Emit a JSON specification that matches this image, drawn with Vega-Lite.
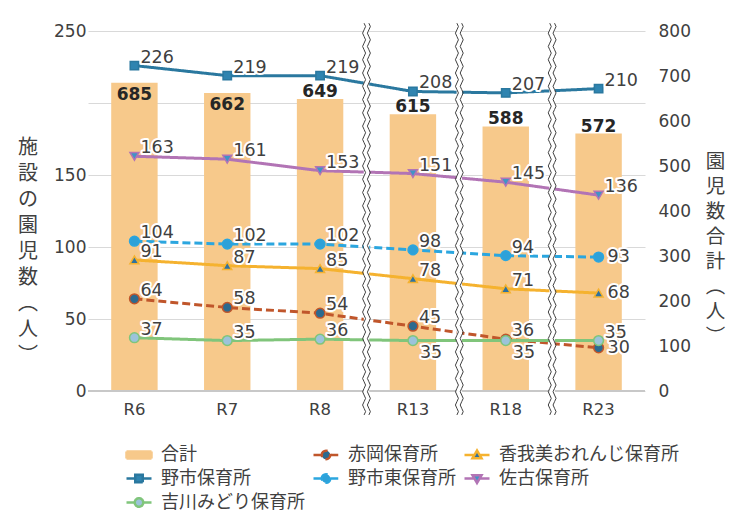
{
  "$schema": "https://vega.github.io/schema/vega-lite/v6.json",
  "width": 557,
  "height": 360,
  "autosize": "none",
  "padding": {"left": 88, "top": 31, "right": 84, "bottom": 124},
  "background": "white",
  "config": {"view": {"stroke": null}},
  "data": {
    "values": [
      {"series": "合計", "year": "R6", "value": 685},
      {"series": "合計", "year": "R7", "value": 662},
      {"series": "合計", "year": "R8", "value": 649},
      {"series": "合計", "year": "R13", "value": 615},
      {"series": "合計", "year": "R18", "value": 588},
      {"series": "合計", "year": "R23", "value": 572},
      {"series": "赤岡保育所", "year": "R6", "value": 64},
      {"series": "赤岡保育所", "year": "R7", "value": 58},
      {"series": "赤岡保育所", "year": "R8", "value": 54},
      {"series": "赤岡保育所", "year": "R13", "value": 45},
      {"series": "赤岡保育所", "year": "R18", "value": 36},
      {"series": "赤岡保育所", "year": "R23", "value": 30},
      {"series": "香我美おれんじ保育所", "year": "R6", "value": 91},
      {"series": "香我美おれんじ保育所", "year": "R7", "value": 87},
      {"series": "香我美おれんじ保育所", "year": "R8", "value": 85},
      {"series": "香我美おれんじ保育所", "year": "R13", "value": 78},
      {"series": "香我美おれんじ保育所", "year": "R18", "value": 71},
      {"series": "香我美おれんじ保育所", "year": "R23", "value": 68},
      {"series": "野市保育所", "year": "R6", "value": 226},
      {"series": "野市保育所", "year": "R7", "value": 219},
      {"series": "野市保育所", "year": "R8", "value": 219},
      {"series": "野市保育所", "year": "R13", "value": 208},
      {"series": "野市保育所", "year": "R18", "value": 207},
      {"series": "野市保育所", "year": "R23", "value": 210},
      {"series": "野市東保育所", "year": "R6", "value": 104},
      {"series": "野市東保育所", "year": "R7", "value": 102},
      {"series": "野市東保育所", "year": "R8", "value": 102},
      {"series": "野市東保育所", "year": "R13", "value": 98},
      {"series": "野市東保育所", "year": "R18", "value": 94},
      {"series": "野市東保育所", "year": "R23", "value": 93},
      {"series": "佐古保育所", "year": "R6", "value": 163},
      {"series": "佐古保育所", "year": "R7", "value": 161},
      {"series": "佐古保育所", "year": "R8", "value": 153},
      {"series": "佐古保育所", "year": "R13", "value": 151},
      {"series": "佐古保育所", "year": "R18", "value": 145},
      {"series": "佐古保育所", "year": "R23", "value": 136},
      {"series": "吉川みどり保育所", "year": "R6", "value": 37},
      {"series": "吉川みどり保育所", "year": "R7", "value": 35},
      {"series": "吉川みどり保育所", "year": "R8", "value": 36},
      {"series": "吉川みどり保育所", "year": "R13", "value": 35},
      {"series": "吉川みどり保育所", "year": "R18", "value": 35},
      {"series": "吉川みどり保育所", "year": "R23", "value": 35}
    ]
  },
  "resolve": {"scale": {"y": "independent"}},
  "layer": [
    {
      "layer": [
        {
          "transform": [{"filter": "datum.series == '合計'"}],
          "mark": {"type": "bar"},
          "encoding": {
            "x": {"field": "year", "type": "nominal", "scale": {"type": "band", "domain": ["R6", "R7", "R8", "R13", "R18", "R23"], "paddingInner": 0.5, "paddingOuter": 0.25},
              "axis": {"title": null, "domain": false, "ticks": false, "grid": false, "labelAngle": 0, "labelFont": "DejaVu Sans", "labelFontSize": 16.5, "labelColor": "#404040", "labelPadding": 10}},
            "y": {"field": "value", "type": "quantitative", "scale": {"domain": [0, 800], "nice": false},
              "axis": {"orient": "right", "title": ["園", "児", "数", "合", "計", "︵", "人", "︶"], "values": [0, 100, 200, 300, 400, 500, 600, 700, 800], "domain": false, "ticks": false, "grid": false, "labelFont": "DejaVu Sans", "labelFontSize": 17, "labelColor": "#404040", "labelPadding": 13, "titleAngle": 0, "titleAlign": "center", "titleBaseline": "middle", "titleFont": "Noto Sans CJK JP", "titleFontSize": 19.5, "titleFontWeight": "normal", "titleColor": "#404040", "titleLineHeight": 25, "titleX": 70, "titleY": 130}},
            "fill": {"field": "series", "type": "nominal",
              "scale": {"domain": ["合計", "赤岡保育所", "香我美おれんじ保育所", "野市保育所", "野市東保育所", "佐古保育所", "吉川みどり保育所"], "range": ["#f7c98b", "#2c6a8f", "#2f72a0", "#2f84b0", "#2ea1d8", "#4193c6", "#9cc3da"]}}
          }
        },
        {
          "data": {"values": [{"v": 0}]},
          "mark": {"type": "rule", "stroke": "#c8c8c8", "strokeWidth": 2},
          "encoding": {"y": {"datum": 0, "type": "quantitative"}}
        },
        {
          "transform": [{"filter": "datum.series == '合計' && (datum.year == 'R6' || datum.year == 'R7')"}],
          "mark": {"type": "text", "font": "DejaVu Sans", "fontWeight": "bold", "fontSize": 17, "baseline": "alphabetic", "align": "center", "dy": 17, "fill": "#262626"},
          "encoding": {
            "x": {"field": "year", "type": "nominal"},
            "y": {"field": "value", "type": "quantitative"},
            "text": {"field": "value", "type": "quantitative"}
          }
        },
        {
          "transform": [{"filter": "datum.series == '合計' && datum.year != 'R6' && datum.year != 'R7'"}],
          "mark": {"type": "text", "font": "DejaVu Sans", "fontWeight": "bold", "fontSize": 17, "baseline": "alphabetic", "align": "center", "dy": -2, "fill": "#262626"},
          "encoding": {
            "x": {"field": "year", "type": "nominal"},
            "y": {"field": "value", "type": "quantitative"},
            "text": {"field": "value", "type": "quantitative"}
          }
        }
      ]
    },
    {
      "layer": [
        {
          "transform": [{"filter": "datum.series != '合計'"}],
          "mark": {"type": "line", "strokeWidth": 3},
          "encoding": {
            "x": {"field": "year", "type": "nominal"},
            "y": {"field": "value", "type": "quantitative", "scale": {"domain": [0, 250], "nice": false},
              "axis": {"orient": "left", "title": ["施", "設", "の", "園", "児", "数", "︵", "人", "︶"], "values": [0, 50, 100, 150, 200, 250], "labelExpr": "datum.value == 200 ? '' : datum.label", "domain": false, "ticks": false, "grid": true, "gridColor": "#d9d9d9", "gridWidth": 1, "labelFont": "DejaVu Sans", "labelFontSize": 17, "labelColor": "#404040", "labelPadding": 2, "titleAngle": 0, "titleAlign": "center", "titleBaseline": "middle", "titleFont": "Noto Sans CJK JP", "titleFontSize": 20, "titleFontWeight": "normal", "titleColor": "#404040", "titleLineHeight": 26, "titleX": -60.5, "titleY": 116}},
            "stroke": {"field": "series", "type": "nominal",
              "scale": {"domain": ["合計", "赤岡保育所", "香我美おれんじ保育所", "野市保育所", "野市東保育所", "佐古保育所", "吉川みどり保育所"], "range": ["#f7c98b", "#c0562b", "#f5b22f", "#2a789f", "#2ba6df", "#b274b5", "#80c57b"]}},
            "strokeDash": {"field": "series", "type": "nominal",
              "scale": {"domain": ["合計", "赤岡保育所", "香我美おれんじ保育所", "野市保育所", "野市東保育所", "佐古保育所", "吉川みどり保育所"], "range": [[1, 0], [8, 4], [1, 0], [1, 0], [8, 4], [1, 0], [1, 0]]}}
          }
        },
        {
          "transform": [{"filter": "datum.series == '野市保育所'"}],
          "mark": {"type": "point", "shape": "square", "size": 70, "filled": true, "opacity": 1, "strokeWidth": 1.5},
          "encoding": {
            "x": {"field": "year", "type": "nominal"},
            "y": {"field": "value", "type": "quantitative"},
            "fill": {"field": "series", "type": "nominal"},
            "stroke": {"field": "series", "type": "nominal"}
          }
        },
        {
          "transform": [{"filter": "datum.series == '赤岡保育所' || datum.series == '野市東保育所' || datum.series == '吉川みどり保育所'"}],
          "mark": {"type": "point", "shape": "circle", "size": 95, "filled": true, "opacity": 1, "strokeWidth": 1.5},
          "encoding": {
            "x": {"field": "year", "type": "nominal"},
            "y": {"field": "value", "type": "quantitative"},
            "fill": {"field": "series", "type": "nominal"},
            "stroke": {"field": "series", "type": "nominal"}
          }
        },
        {
          "transform": [{"filter": "datum.series == '香我美おれんじ保育所'"}],
          "mark": {"type": "point", "shape": "triangle-up", "size": 80, "filled": true, "opacity": 1, "strokeWidth": 1.5},
          "encoding": {
            "x": {"field": "year", "type": "nominal"},
            "y": {"field": "value", "type": "quantitative"},
            "fill": {"field": "series", "type": "nominal"},
            "stroke": {"field": "series", "type": "nominal"}
          }
        },
        {
          "transform": [{"filter": "datum.series == '佐古保育所'"}],
          "mark": {"type": "point", "shape": "triangle-down", "size": 80, "filled": true, "opacity": 1, "strokeWidth": 1.5},
          "encoding": {
            "x": {"field": "year", "type": "nominal"},
            "y": {"field": "value", "type": "quantitative"},
            "fill": {"field": "series", "type": "nominal"},
            "stroke": {"field": "series", "type": "nominal"}
          }
        },
        {
          "transform": [{"filter": "datum.series != '合計' && !(datum.series == '吉川みどり保育所' && (datum.year == 'R13' || datum.year == 'R18')) && !(datum.year == 'R23' && (datum.series == '野市東保育所' || datum.series == '香我美おれんじ保育所' || datum.series == '赤岡保育所'))"}],
          "encoding": {
            "x": {"field": "year", "type": "nominal"},
            "y": {"field": "value", "type": "quantitative"},
            "text": {"field": "value", "type": "quantitative"}
          },
          "layer": [
            {"mark": {"type": "text", "font": "DejaVu Sans", "fontSize": 17.5, "align": "left", "baseline": "alphabetic", "dx": 6, "dy": -3, "fill": "white", "stroke": "white", "strokeWidth": 4, "strokeJoin": "round"}},
            {"mark": {"type": "text", "font": "DejaVu Sans", "fontSize": 17.5, "align": "left", "baseline": "alphabetic", "dx": 6, "dy": -3, "fill": "#404040"}}
          ]
        },
        {
          "transform": [{"filter": "datum.series == '吉川みどり保育所' && (datum.year == 'R13' || datum.year == 'R18')"}],
          "encoding": {
            "x": {"field": "year", "type": "nominal"},
            "y": {"field": "value", "type": "quantitative"},
            "text": {"field": "value", "type": "quantitative"}
          },
          "layer": [
            {"mark": {"type": "text", "font": "DejaVu Sans", "fontSize": 17.5, "align": "left", "baseline": "alphabetic", "dx": 7, "dy": 17, "fill": "white", "stroke": "white", "strokeWidth": 4, "strokeJoin": "round"}},
            {"mark": {"type": "text", "font": "DejaVu Sans", "fontSize": 17.5, "align": "left", "baseline": "alphabetic", "dx": 7, "dy": 17, "fill": "#404040"}}
          ]
        },
        {
          "transform": [{"filter": "datum.year == 'R23' && (datum.series == '野市東保育所' || datum.series == '香我美おれんじ保育所' || datum.series == '赤岡保育所')"}],
          "encoding": {
            "x": {"field": "year", "type": "nominal"},
            "y": {"field": "value", "type": "quantitative"},
            "text": {"field": "value", "type": "quantitative"}
          },
          "layer": [
            {"mark": {"type": "text", "font": "DejaVu Sans", "fontSize": 17.5, "align": "left", "baseline": "alphabetic", "dx": 9, "dy": 5, "fill": "white", "stroke": "white", "strokeWidth": 4, "strokeJoin": "round"}},
            {"mark": {"type": "text", "font": "DejaVu Sans", "fontSize": 17.5, "align": "left", "baseline": "alphabetic", "dx": 9, "dy": 5, "fill": "#404040"}}
          ]
        },
        {
          "data": {"values": [{"year": "R8"}, {"year": "R13"}, {"year": "R18"}]},
          "mark": {"type": "point", "shape": "M-0.0135,-0.975H0.0135V0.985H-0.0135Z", "size": 160000, "filled": true, "fill": "white", "strokeWidth": 0, "opacity": 1, "xOffset": 46.4},
          "encoding": {
            "x": {"field": "year", "type": "nominal"},
            "y": {"datum": 120, "type": "quantitative"}
          }
        },
        {
          "data": {"values": [{"year": "R8"}, {"year": "R13"}, {"year": "R18"}]},
          "mark": {"type": "point", "shape": "M-0.012,-0.975 q0.015,0.0166 0,0.0332 q-0.015,0.0166 0,0.0332 q0.015,0.0166 0,0.0332 q-0.015,0.0166 0,0.0332 q0.015,0.0166 0,0.0332 q-0.015,0.0166 0,0.0332 q0.015,0.0166 0,0.0332 q-0.015,0.0166 0,0.0332 q0.015,0.0166 0,0.0332 q-0.015,0.0166 0,0.0332 q0.015,0.0166 0,0.0332 q-0.015,0.0166 0,0.0332 q0.015,0.0166 0,0.0332 q-0.015,0.0166 0,0.0332 q0.015,0.0166 0,0.0332 q-0.015,0.0166 0,0.0332 q0.015,0.0166 0,0.0332 q-0.015,0.0166 0,0.0332 q0.015,0.0166 0,0.0332 q-0.015,0.0166 0,0.0332 q0.015,0.0166 0,0.0332 q-0.015,0.0166 0,0.0332 q0.015,0.0166 0,0.0332 q-0.015,0.0166 0,0.0332 q0.015,0.0166 0,0.0332 q-0.015,0.0166 0,0.0332 q0.015,0.0166 0,0.0332 q-0.015,0.0166 0,0.0332 q0.015,0.0166 0,0.0332 q-0.015,0.0166 0,0.0332 q0.015,0.0166 0,0.0332 q-0.015,0.0166 0,0.0332 q0.015,0.0166 0,0.0332 q-0.015,0.0166 0,0.0332 q0.015,0.0166 0,0.0332 q-0.015,0.0166 0,0.0332 q0.015,0.0166 0,0.0332 q-0.015,0.0166 0,0.0332 q0.015,0.0166 0,0.0332 q-0.015,0.0166 0,0.0332 q0.015,0.0166 0,0.0332 q-0.015,0.0166 0,0.0332 q0.015,0.0166 0,0.0332 q-0.015,0.0166 0,0.0332 q0.015,0.0166 0,0.0332 q-0.015,0.0166 0,0.0332 q0.015,0.0166 0,0.0332 q-0.015,0.0166 0,0.0332 q0.015,0.0166 0,0.0332 q-0.015,0.0166 0,0.0332 q0.015,0.0166 0,0.0332 q-0.015,0.0166 0,0.0332 q0.015,0.0166 0,0.0332 q-0.015,0.0166 0,0.0332 q0.015,0.0166 0,0.0332 q-0.015,0.0166 0,0.0332 q0.015,0.0166 0,0.0332 q-0.015,0.0166 0,0.0332 q0.015,0.0166 0,0.0332 M0.012,-0.975 q0.015,0.0166 0,0.0332 q-0.015,0.0166 0,0.0332 q0.015,0.0166 0,0.0332 q-0.015,0.0166 0,0.0332 q0.015,0.0166 0,0.0332 q-0.015,0.0166 0,0.0332 q0.015,0.0166 0,0.0332 q-0.015,0.0166 0,0.0332 q0.015,0.0166 0,0.0332 q-0.015,0.0166 0,0.0332 q0.015,0.0166 0,0.0332 q-0.015,0.0166 0,0.0332 q0.015,0.0166 0,0.0332 q-0.015,0.0166 0,0.0332 q0.015,0.0166 0,0.0332 q-0.015,0.0166 0,0.0332 q0.015,0.0166 0,0.0332 q-0.015,0.0166 0,0.0332 q0.015,0.0166 0,0.0332 q-0.015,0.0166 0,0.0332 q0.015,0.0166 0,0.0332 q-0.015,0.0166 0,0.0332 q0.015,0.0166 0,0.0332 q-0.015,0.0166 0,0.0332 q0.015,0.0166 0,0.0332 q-0.015,0.0166 0,0.0332 q0.015,0.0166 0,0.0332 q-0.015,0.0166 0,0.0332 q0.015,0.0166 0,0.0332 q-0.015,0.0166 0,0.0332 q0.015,0.0166 0,0.0332 q-0.015,0.0166 0,0.0332 q0.015,0.0166 0,0.0332 q-0.015,0.0166 0,0.0332 q0.015,0.0166 0,0.0332 q-0.015,0.0166 0,0.0332 q0.015,0.0166 0,0.0332 q-0.015,0.0166 0,0.0332 q0.015,0.0166 0,0.0332 q-0.015,0.0166 0,0.0332 q0.015,0.0166 0,0.0332 q-0.015,0.0166 0,0.0332 q0.015,0.0166 0,0.0332 q-0.015,0.0166 0,0.0332 q0.015,0.0166 0,0.0332 q-0.015,0.0166 0,0.0332 q0.015,0.0166 0,0.0332 q-0.015,0.0166 0,0.0332 q0.015,0.0166 0,0.0332 q-0.015,0.0166 0,0.0332 q0.015,0.0166 0,0.0332 q-0.015,0.0166 0,0.0332 q0.015,0.0166 0,0.0332 q-0.015,0.0166 0,0.0332 q0.015,0.0166 0,0.0332 q-0.015,0.0166 0,0.0332 q0.015,0.0166 0,0.0332 q-0.015,0.0166 0,0.0332 q0.015,0.0166 0,0.0332", "size": 160000, "filled": false, "fill": "transparent", "stroke": "#404040", "strokeWidth": 1, "opacity": 1, "xOffset": 46.4},
          "encoding": {
            "x": {"field": "year", "type": "nominal"},
            "y": {"datum": 120, "type": "quantitative"}
          }
        },
        {
          "transform": [{"filter": "false"}],
          "mark": {"type": "point", "filled": true, "opacity": 1},
          "encoding": {
            "x": {"field": "year", "type": "nominal"},
            "y": {"field": "value", "type": "quantitative"},
            "fill": {"field": "series", "type": "nominal",
              "legend": {"title": null, "orient": "none", "direction": "horizontal", "legendX": 37, "legendY": 409.5, "columns": 3, "gridAlign": "each", "columnPadding": 3, "rowPadding": 0, "symbolSize": 625, "symbolStrokeWidth": 2.5, "labelFont": "Noto Sans CJK JP", "labelFontSize": 18, "labelColor": "#404040", "labelOffset": 8, "labelLimit": 300, "padding": 0, "symbolOpacity": 1,
                "encode": {"symbols": {"update": {"fill": {"scale": "fill", "field": "value"}, "stroke": {"scale": "stroke", "field": "value"}, "shape": {"scale": "shape", "field": "value"}, "strokeDash": {"scale": "strokeDash", "field": "value"}, "strokeWidth": {"value": 2.5}, "opacity": {"value": 1}}}}}},
            "stroke": {"field": "series", "type": "nominal",
              "legend": {"title": null, "orient": "none", "direction": "horizontal", "legendX": 37, "legendY": 409.5, "columns": 3, "gridAlign": "each", "columnPadding": 3, "rowPadding": 0, "symbolSize": 625, "symbolStrokeWidth": 2.5, "labelFont": "Noto Sans CJK JP", "labelFontSize": 18, "labelColor": "#404040", "labelOffset": 8, "labelLimit": 300, "padding": 0, "symbolOpacity": 1,
                "encode": {"symbols": {"update": {"fill": {"scale": "fill", "field": "value"}, "stroke": {"scale": "stroke", "field": "value"}, "shape": {"scale": "shape", "field": "value"}, "strokeDash": {"scale": "strokeDash", "field": "value"}, "strokeWidth": {"value": 2.5}, "opacity": {"value": 1}}}}}},
            "strokeDash": {"field": "series", "type": "nominal",
              "legend": {"title": null, "orient": "none", "direction": "horizontal", "legendX": 37, "legendY": 409.5, "columns": 3, "gridAlign": "each", "columnPadding": 3, "rowPadding": 0, "symbolSize": 625, "symbolStrokeWidth": 2.5, "labelFont": "Noto Sans CJK JP", "labelFontSize": 18, "labelColor": "#404040", "labelOffset": 8, "labelLimit": 300, "padding": 0, "symbolOpacity": 1,
                "encode": {"symbols": {"update": {"fill": {"scale": "fill", "field": "value"}, "stroke": {"scale": "stroke", "field": "value"}, "shape": {"scale": "shape", "field": "value"}, "strokeDash": {"scale": "strokeDash", "field": "value"}, "strokeWidth": {"value": 2.5}, "opacity": {"value": 1}}}}}},
            "shape": {"field": "series", "type": "nominal",
              "scale": {"domain": ["合計", "赤岡保育所", "香我美おれんじ保育所", "野市保育所", "野市東保育所", "佐古保育所", "吉川みどり保育所"],
                "range": [
                  "M-1,-0.28H1V0.28H-1Z",
                  "M-1,0H-0.34M0.34,0H1M-0.34,0A0.34,0.34 0 1,1 0.34,0A0.34,0.34 0 1,1 -0.34,0Z",
                  "M-1,0H-0.21M0.21,0H1M0,-0.36L0.36,0.26H-0.36Z",
                  "M-1,0H-0.3M0.3,0H1M-0.3,-0.3H0.3V0.3H-0.3Z",
                  "M-1,0H-0.34M0.34,0H1M-0.34,0A0.34,0.34 0 1,1 0.34,0A0.34,0.34 0 1,1 -0.34,0Z",
                  "M-1,0H-0.21M0.21,0H1M0,0.36L0.36,-0.26H-0.36Z",
                  "M-1,0H-0.34M0.34,0H1M-0.34,0A0.34,0.34 0 1,1 0.34,0A0.34,0.34 0 1,1 -0.34,0Z"
                ]},
              "legend": {"title": null, "orient": "none", "direction": "horizontal", "legendX": 37, "legendY": 409.5, "columns": 3, "gridAlign": "each", "columnPadding": 3, "rowPadding": 0, "symbolSize": 625, "symbolStrokeWidth": 2.5, "labelFont": "Noto Sans CJK JP", "labelFontSize": 18, "labelColor": "#404040", "labelOffset": 8, "labelLimit": 300, "padding": 0, "symbolOpacity": 1,
                "encode": {"symbols": {"update": {"fill": {"scale": "fill", "field": "value"}, "stroke": {"scale": "stroke", "field": "value"}, "shape": {"scale": "shape", "field": "value"}, "strokeDash": {"scale": "strokeDash", "field": "value"}, "strokeWidth": {"value": 2.5}, "opacity": {"value": 1}}}}}}
          }
        }
      ]
    }
  ]
}
